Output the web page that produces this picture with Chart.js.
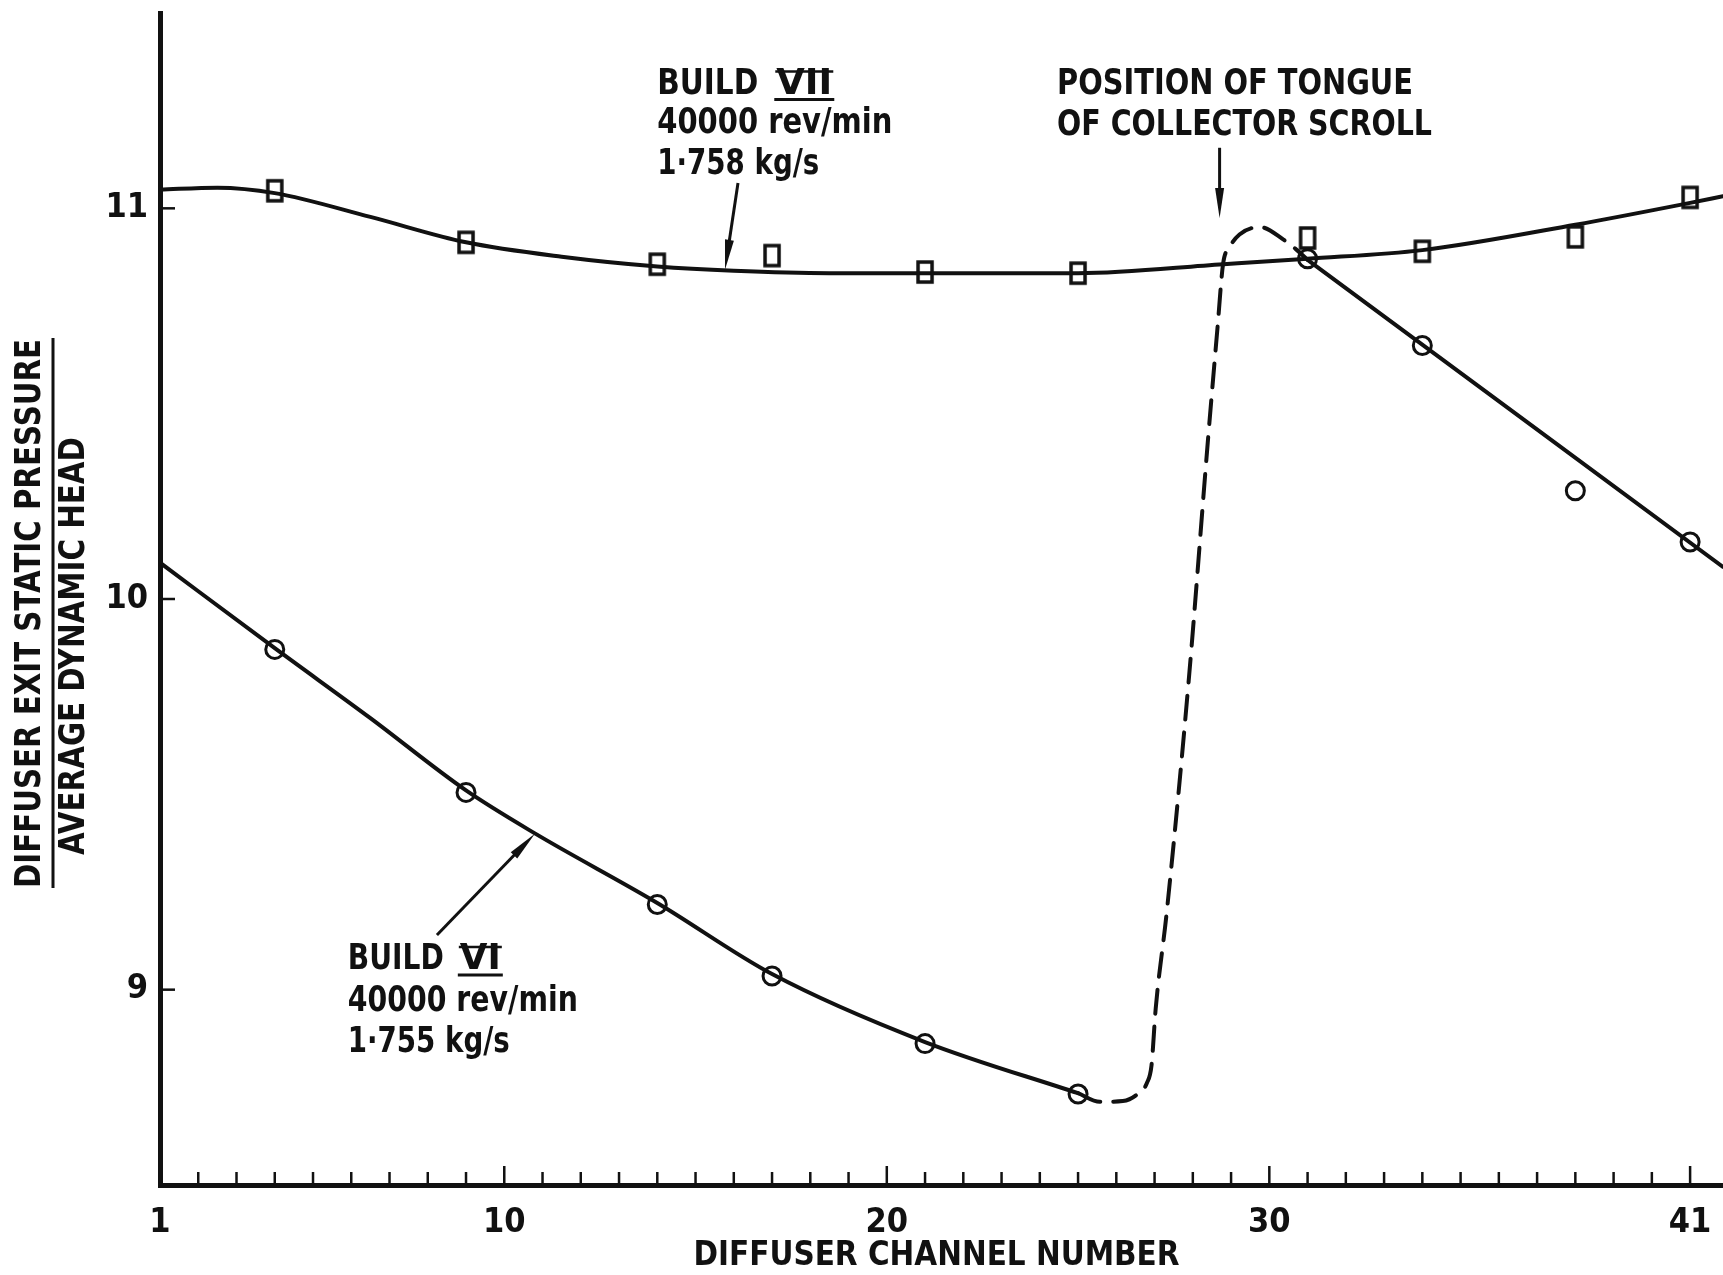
<!DOCTYPE html>
<html>
<head>
<meta charset="utf-8">
<title>Diffuser exit static pressure</title>
<script src="https://cdn.jsdelivr.net/npm/chart.js@4.4.1/dist/chart.umd.min.js"></script>
<style>
  html, body { margin: 0; padding: 0; background: #fff; overflow: hidden; }
  #box { width: 1723px; height: 1275px; }
</style>
</head>
<body>
<div id="box"><canvas id="myChart"></canvas></div>
<script>
// measured points: channel number -> static pressure / dynamic head
const channels = [4, 9, 14, 17, 21, 25, 31, 34, 38, 41];
const build7 = [11.045, 10.913, 10.857, 10.879, 10.837, 10.834, 10.924, 10.89, 10.927, 11.028];
const build6 = [9.871, 9.505, 9.218, 9.035, 8.862, 8.733, 10.871, 10.649, 10.277, 10.146];

// faired curves as drawn on the original
const curve7X = [1, 2.5, 4, 6.5, 9, 11.5, 14, 16, 18.5, 21, 25, 28.8, 31, 34, 38, 41, 41.86];
const curve7Y = [11.048, 11.053, 11.039, 10.978, 10.913, 10.876, 10.851, 10.84, 10.834, 10.834, 10.834, 10.857, 10.871, 10.893, 10.958, 11.014, 11.031];
const curve6X = [1, 4, 6.5, 9, 10.8, 14, 17, 21, 25];
const curve6Y = [10.093, 9.874, 9.695, 9.51, 9.40, 9.222, 9.04, 8.866, 8.735];
const tongueX = [25, 25.57, 26.17, 26.52, 26.8, 26.92, 27.03, 27.32, 27.9, 28.39, 28.65, 28.79, 28.96, 29.22, 29.76, 30.37, 30.7, 31];
const tongueY = [8.735, 8.713, 8.715, 8.73, 8.761, 8.806, 8.952, 9.2, 9.8, 10.4, 10.7, 10.857, 10.9, 10.933, 10.952, 10.92, 10.895, 10.868];
const curve6bX = [31, 41.86];
const curve6bY = [10.868, 10.082];

const xLabels = [1, 10, 20, 30, 41];
const yLabels = [9, 10, 11];

const ink = "#111";
const FONT = "'DejaVu Sans', sans-serif";

function pts(xs, ys) {
  return xs.map((v, i) => ({ x: v, y: ys[i] }));
}

function curve(xs, ys, dash) {
  return {
    data: pts(xs, ys),
    showLine: true,
    pointRadius: 0,
    borderColor: ink,
    borderWidth: 4,
    borderDash: dash || [],
    borderCapStyle: "round",
    cubicInterpolationMode: "monotone"
  };
}

// tall open rectangle used for the build VII points
const box = document.createElement("canvas");
box.width = 20;
box.height = 26;
const bctx = box.getContext("2d");
bctx.lineWidth = 3.5;
bctx.strokeStyle = ink;
bctx.strokeRect(3, 3, 14, 20);

// squeeze text to the width it has on the drawing
function letter(ctx, str, left, mid, width, size) {
  ctx.save();
  ctx.font = "bold " + size + "px " + FONT;
  const w = ctx.measureText(str).width;
  ctx.translate(left, mid);
  ctx.scale(width / w, 1);
  ctx.textBaseline = "middle";
  ctx.textAlign = "left";
  ctx.fillStyle = ink;
  ctx.fillText(str, 0, 0);
  ctx.restore();
}

function roman(ctx, str, left, mid, width, size) {
  letter(ctx, str, left, mid, width, size);
  ctx.save();
  ctx.strokeStyle = ink;
  ctx.lineWidth = 3;
  ctx.beginPath();
  ctx.moveTo(left - 2, mid + 15);
  ctx.lineTo(left + width + 2, mid + 15);
  ctx.stroke();
  ctx.lineWidth = 2.5;
  ctx.beginPath();
  ctx.moveTo(left - 1, mid - 13);
  ctx.lineTo(left + width + 1, mid - 13);
  ctx.stroke();
  ctx.restore();
}

function arrow(ctx, x0, y0, x1, y1) {
  const a = Math.atan2(y1 - y0, x1 - x0);
  const L = 30, W = 4.5;
  const c = Math.cos(a), s = Math.sin(a);
  ctx.save();
  ctx.strokeStyle = ink;
  ctx.fillStyle = ink;
  ctx.lineWidth = 3;
  ctx.beginPath();
  ctx.moveTo(x0, y0);
  ctx.lineTo(x1 - L * 0.5 * c, y1 - L * 0.5 * s);
  ctx.stroke();
  ctx.beginPath();
  ctx.moveTo(x1, y1);
  ctx.lineTo(x1 - L * c + W * s, y1 - L * s - W * c);
  ctx.lineTo(x1 - L * c - W * s, y1 - L * s + W * c);
  ctx.closePath();
  ctx.fill();
  ctx.restore();
}

const lettering = {
  id: "lettering",
  afterDraw(chart) {
    const { ctx } = chart;
    const X = chart.scales.x, Y = chart.scales.y;
    const px = v => X.getPixelForValue(v);
    const py = v => Y.getPixelForValue(v);
    const bottom = chart.chartArea.bottom, left = chart.chartArea.left;

    // inward tick marks
    ctx.save();
    ctx.strokeStyle = ink;
    ctx.lineWidth = 2.5;
    X.ticks.forEach(t => {
      const len = xLabels.includes(t.value) && t.value !== 1 ? 19 : 13;
      const x = px(t.value);
      ctx.beginPath();
      ctx.moveTo(x, bottom);
      ctx.lineTo(x, bottom - len);
      ctx.stroke();
    });
    Y.ticks.forEach(t => {
      const y = py(t.value);
      ctx.beginPath();
      ctx.moveTo(left, y);
      ctx.lineTo(left + 15, y);
      ctx.stroke();
    });
    ctx.restore();

    // build VII
    const l7 = px(14.0);
    letter(ctx, "BUILD", l7, py(11.317), 101, 35);
    roman(ctx, "VII", l7 + 119, py(11.317), 56, 35);
    letter(ctx, "40000 rev/min", l7, py(11.216), 235, 35);
    letter(ctx, "1·758 kg/s", l7, py(11.11), 162, 35);
    arrow(ctx, px(16.11), py(11.065), px(15.77), py(10.843));

    // tongue
    const lt = px(24.45);
    letter(ctx, "POSITION OF TONGUE", lt, py(11.317), 356, 35);
    letter(ctx, "OF COLLECTOR SCROLL", lt, py(11.211), 375, 35);
    arrow(ctx, px(28.7), py(11.155), px(28.7), py(10.975));

    // build VI
    const l6 = px(5.91);
    letter(ctx, "BUILD", l6, py(9.076), 96, 35);
    roman(ctx, "VI", l6 + 112, py(9.076), 41, 35);
    letter(ctx, "40000 rev/min", l6, py(8.969), 230, 35);
    letter(ctx, "1·755 kg/s", l6, py(8.865), 162, 35);
    arrow(ctx, px(8.24), py(9.14), px(10.8), py(9.399));

    // axis titles
    letter(ctx, "DIFFUSER CHANNEL NUMBER", px(21.3) - 243, chart.height - 19, 486, 34);

    ctx.save();
    ctx.rotate(-Math.PI / 2);
    // rotated frame: (-y, x)
    letter(ctx, "DIFFUSER EXIT STATIC PRESSURE", -614 - 274, 31, 549, 35);
    letter(ctx, "AVERAGE DYNAMIC HEAD", -646 - 209, 75, 418, 35);
    ctx.strokeStyle = ink;
    ctx.lineWidth = 3;
    ctx.beginPath();
    ctx.moveTo(-888, 53);
    ctx.lineTo(-338, 53);
    ctx.stroke();
    ctx.restore();
  }
};

const tickFont = {
  family: "'Liberation Sans Narrow', 'DejaVu Sans Condensed', 'Liberation Sans', sans-serif",
  size: 34,
  weight: "bold"
};

const data = {
  datasets: [
    {
      data: pts(channels, build7),
      pointStyle: box,
      pointRadius: 10,
      showLine: false
    },
    {
      data: pts(channels, build6),
      pointStyle: "circle",
      pointRadius: 9,
      pointBorderWidth: 3,
      pointBorderColor: ink,
      pointBackgroundColor: "rgba(0,0,0,0)",
      showLine: false
    },
    curve(curve7X, curve7Y),
    curve(curve6X, curve6Y),
    curve(tongueX, tongueY, [24, 13]),
    curve(curve6bX, curve6bY)
  ]
};

const config = {
  type: "scatter",
  data: data,
  options: {
    responsive: true,
    maintainAspectRatio: false,
    animation: false,
    layout: { autoPadding: false, padding: { top: 13, right: 0, left: 0, bottom: 0 } },
    plugins: {
      legend: { display: false },
      tooltip: { enabled: false }
    },
    scales: {
      x: {
        type: "linear",
        min: 1,
        max: 41.86,
        afterBuildTicks: function (scale) {
          const t = [];
          for (let c = 1; c <= 41; c++) t.push({ value: c });
          scale.ticks = t;
        },
        afterFit: function (scale) {
          scale.height = 90;
          scale.paddingLeft = 0;
          scale.paddingRight = 0;
        },
        ticks: {
          autoSkip: false,
          maxRotation: 0,
          padding: 18,
          color: ink,
          font: tickFont,
          callback: v => (xLabels.includes(v) ? String(v) : "")
        },
        grid: { display: false, drawTicks: false },
        border: { display: true, color: ink, width: 5 }
      },
      y: {
        type: "linear",
        min: 8.5,
        max: 11.5,
        afterBuildTicks: function (scale) {
          scale.ticks = yLabels.map(v => ({ value: v }));
        },
        afterFit: function (scale) {
          scale.width = 160;
          scale.paddingTop = 0;
          scale.paddingBottom = 0;
        },
        ticks: {
          padding: 12,
          color: ink,
          font: tickFont
        },
        grid: { display: false, drawTicks: false },
        border: { display: true, color: ink, width: 5 }
      }
    }
  },
  plugins: [lettering]
};

const myChart = new Chart(document.getElementById("myChart"), config);
</script>
</body>
</html>
